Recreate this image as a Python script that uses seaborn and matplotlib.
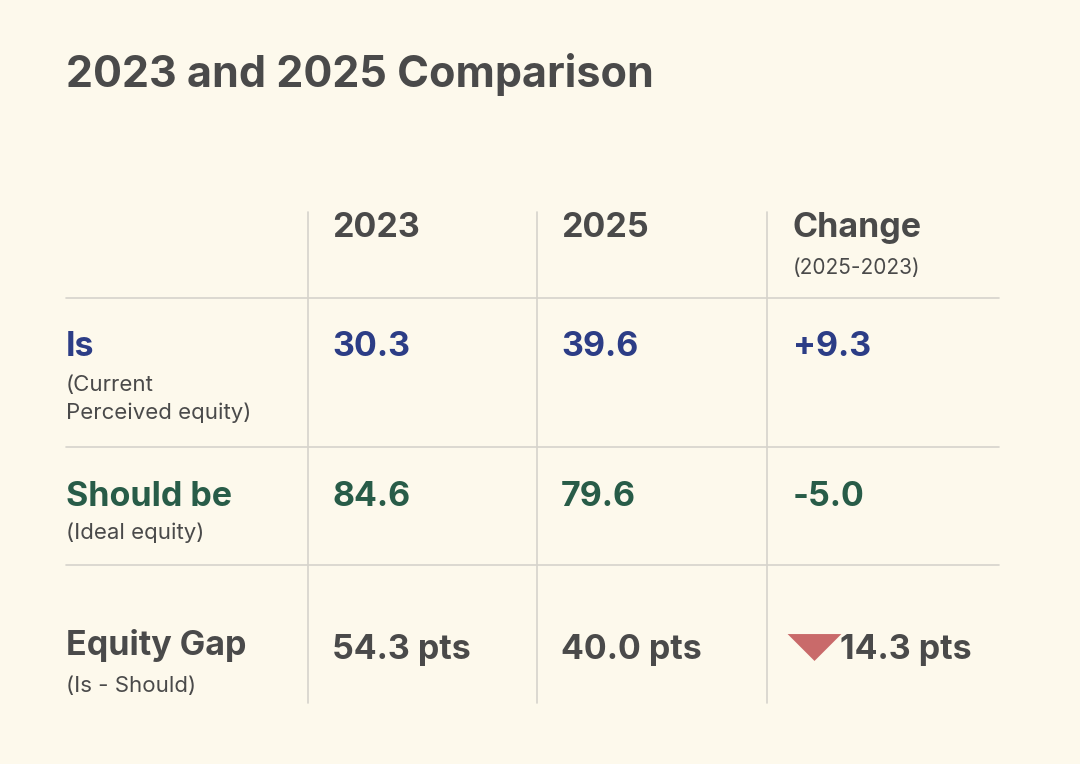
import matplotlib
matplotlib.use("Agg")
import matplotlib.pyplot as plt
import seaborn as sns

sns.set_theme(style="white")
plt.rcParams["font.family"] = ["Inter", "DejaVu Sans"]

BG = "#fdf9ec"
GRAY = "#4a4a4a"
BLUE = "#2c3d86"
GREEN = "#285c48"
RED = "#c96a6a"
LINE = "#d6d3cc"

title = "2023 and 2025 Comparison"
columns = ["2023", "2025", "Change"]
change_note = "(2025-2023)"
row_labels = ["Is", "Should be", "Equity Gap"]
row_notes = ["(Current\nPerceived equity)", "(Ideal equity)", "(Is - Should)"]
row_colors = [BLUE, GREEN, GRAY]
is_vals = ["30.3", "39.6", "+9.3"]
should_vals = ["84.6", "79.6", "-5.0"]
gap_vals = ["54.3 pts", "40.0 pts", "14.3 pts"]

fig = plt.figure(figsize=(10.8, 7.64), dpi=100, facecolor=BG)
ax = fig.add_axes([0, 0, 1, 1])
ax.set_facecolor(BG)
ax.set_xlim(0, 1080)
ax.set_ylim(764, 0)
ax.axis("off")

ax.text(66, 75, title, fontsize=31, fontweight="bold", color=GRAY, va="center")

col_x = [332, 561, 793]
for x in [308, 537, 767]:
    ax.plot([x, x], [212, 703], color=LINE, lw=1.2)
for y in [298, 447, 565]:
    ax.plot([66, 999], [y, y], color=LINE, lw=1.2)

for x, c in zip(col_x, columns):
    ax.text(x, 228, c, fontsize=24.5, fontweight="bold", color=GRAY, va="center")
ax.text(col_x[2], 268, change_note, fontsize=15, color=GRAY, va="center")

label_y = [347, 497, 646]
note_y = [399, 533, 686]
for lbl, note, col, ly, ny in zip(row_labels, row_notes, row_colors, label_y, note_y):
    ax.text(66, ly, lbl, fontsize=24.5, fontweight="bold", color=col, va="center")
    ax.text(66, ny, note, fontsize=16, color=GRAY, va="center", linespacing=1.45)

for vals, col, y in zip([is_vals, should_vals], [BLUE, GREEN], [347, 497]):
    for x, v in zip(col_x, vals):
        ax.text(x, y, v, fontsize=24.5, fontweight="bold", color=col, va="center")

tri = [(-1, 0.5), (1, 0.5), (0, -0.5), (-1, 0.5)]
for i, (x, v) in enumerate(zip(col_x, gap_vals)):
    if i == 2:
        ax.scatter([814], [647], marker=tri, s=1500, color=RED, linewidths=0)
        x = 840
    ax.text(x, 650, v, fontsize=24.5, fontweight="bold", color=GRAY, va="center")

fig.savefig("out.png", dpi=100, facecolor=BG)
